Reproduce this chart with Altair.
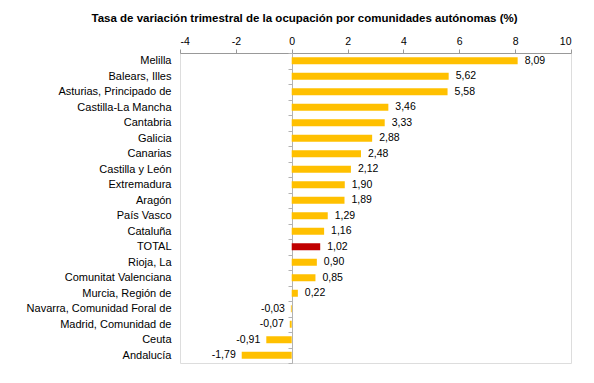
import altair as alt
import pandas as pd

regions = [
    "Melilla", "Balears, Illes", "Asturias, Principado de", "Castilla-La Mancha",
    "Cantabria", "Galicia", "Canarias", "Castilla y León", "Extremadura", "Aragón",
    "País Vasco", "Cataluña", "TOTAL", "Rioja, La", "Comunitat Valenciana",
    "Murcia, Región de", "Navarra, Comunidad Foral de", "Madrid, Comunidad de",
    "Ceuta", "Andalucía",
]
values = [8.09, 5.62, 5.58, 3.46, 3.33, 2.88, 2.48, 2.12, 1.90, 1.89,
          1.29, 1.16, 1.02, 0.90, 0.85, 0.22, -0.03, -0.07, -0.91, -1.79]
x_ticks = [-4, -2, 0, 2, 4, 6, 8, 10]

df = pd.DataFrame({"region": regions, "value": values})

FONT = "Liberation Sans"

y_enc = alt.Y(
    "region:N",
    sort=regions,
    title=None,
    scale=alt.Scale(paddingInner=0, paddingOuter=0),
    axis=alt.Axis(
        orient="left",
        offset=-112,
        domain=True,
        domainColor="#b3b3b3",
        domainWidth=1,
        ticks=True,
        tickBand="extent",
        tickSize=4,
        tickColor="#b3b3b3",
        labelPadding=117,
        labelFontSize=11,
        labelFont=FONT,
        labelColor="#000000",
        grid=False,
    ),
)

x_enc = alt.X(
    "value:Q",
    title=None,
    scale=alt.Scale(domain=[-4, 10], nice=False, zero=False),
    axis=alt.Axis(
        orient="top",
        values=x_ticks,
        format="d",
        grid=False,
        domainColor="#999999",
        tickColor="#999999",
        tickSize=4,
        labelPadding=3,
        labelFontSize=10.5,
        labelFont=FONT,
        labelColor="#000000",
    ),
)

bars = alt.Chart(df).mark_bar(size=7).encode(
    y=y_enc,
    x=x_enc,
    color=alt.condition(
        alt.datum.region == "TOTAL", alt.value("#C00000"), alt.value("#FFC000")
    ),
)

pos_text = alt.Chart(df).transform_filter(alt.datum.value >= 0).mark_text(
    align="left", baseline="middle", dx=7, fontSize=10.5, font=FONT, color="#000000"
).encode(
    y=alt.Y("region:N", sort=regions),
    x=alt.X("value:Q"),
    text=alt.Text("value:Q", format=".2f"),
)

neg_text = alt.Chart(df).transform_filter(alt.datum.value < 0).mark_text(
    align="right", baseline="middle", dx=-6, fontSize=10.5, font=FONT, color="#000000"
).encode(
    y=alt.Y("region:N", sort=regions),
    x=alt.X("value:Q"),
    text=alt.Text("value:Q", format=".2f"),
)

chart = (
    alt.layer(bars, pos_text, neg_text)
    .properties(
        width=391,
        height=310,
        autosize=alt.AutoSizeParams(type="none"),
        padding={"left": 172, "top": 45, "right": 14, "bottom": 12},
        title=alt.TitleParams(
            "Tasa de variación trimestral de la ocupación por comunidades autónomas (%)",
            anchor="middle",
            frame="group",
            dx=-71,
            fontSize=11.5,
            fontWeight="bold",
            font=FONT,
            color="#000000",
            offset=12,
        ),
    )
    .configure_view(stroke=None)
    .configure(
        locale={
            "number": {
                "decimal": ",",
                "thousands": ".",
                "grouping": [3],
                "currency": ["", " €"],
                "minus": "-",
            }
        }
    )
)

chart.save("out.html", embed_options={"renderer": "svg", "actions": False})
